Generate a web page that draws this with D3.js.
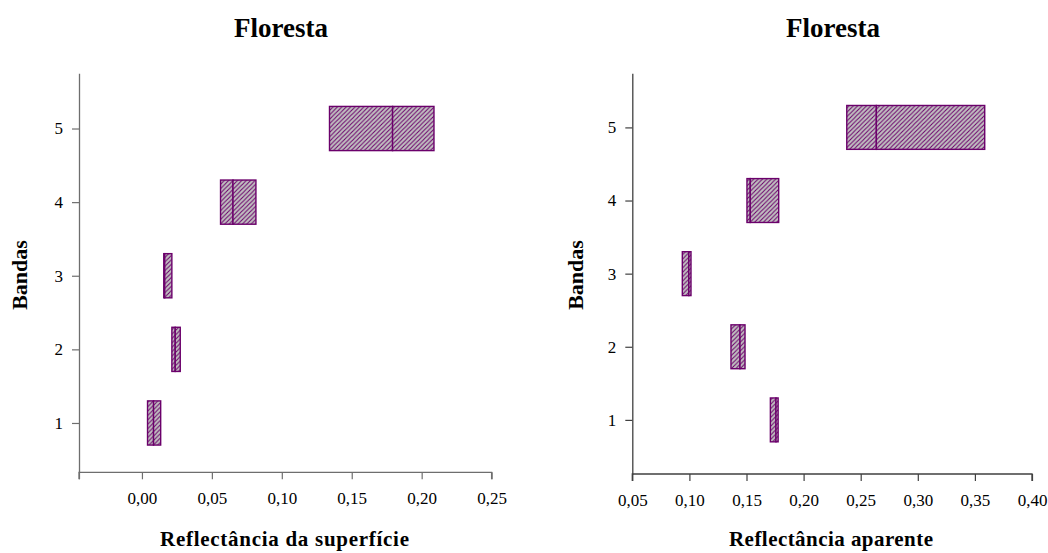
<!DOCTYPE html>
<html><head><meta charset="utf-8">
<script src="https://cdn.jsdelivr.net/npm/d3@7/dist/d3.min.js"></script>
<style>
body{margin:0;background:#fff;}
svg{display:block;font-family:"Liberation Serif","Times New Roman",serif;}
</style></head>
<body><svg id="c" width="1048" height="553"></svg>
<script>
// ---- data ----
const bands = [1, 2, 3, 4, 5];
const xTicksLeft = [0, 0.05, 0.10, 0.15, 0.20, 0.25];
const xTicksRight = [0.05, 0.10, 0.15, 0.20, 0.25, 0.30, 0.35, 0.40];
// Reflectância da superfície: min, mediana, max por banda
const supMin = [0.0040, 0.0214, 0.0156, 0.0562, 0.1341];
const supMed = [0.0083, 0.0238, 0.0163, 0.0651, 0.1792];
const supMax = [0.0134, 0.0274, 0.0214, 0.0815, 0.2088];
// Reflectância aparente
const apaMin = [0.1709, 0.1364, 0.0938, 0.1504, 0.2378];
const apaMed = [0.1758, 0.1443, 0.0995, 0.1533, 0.2637];
const apaMax = [0.1777, 0.1487, 0.1014, 0.1782, 0.3586];

const svg = d3.select("#c");
const purple = "#6b006b";
const serif = "Liberation Serif";
const defs = svg.append("defs");
const P = 4.4;
const pat = defs.append("pattern").attr("id","hatch").attr("patternUnits","userSpaceOnUse")
  .attr("width",P).attr("height",P);
pat.append("rect").attr("width",P).attr("height",P).attr("fill","#c0c0c0");
pat.append("path").attr("d",`M-1,1 L1,-1 M0,${P} L${P},0 M${P-1},${P+1} L${P+1},${P-1}`)
  .attr("stroke",purple).attr("stroke-width",1.05);

const fmt = d => d3.format(".2f")(d).replace(".", ",");

function panel(cfg){
  const x = d3.scaleLinear().domain(cfg.xDomain).range(cfg.xRange);
  const y = d3.scaleLinear().domain(cfg.yDomain).range(cfg.yRange);
  const g = svg.append("g").attr("font-family", serif);
  const axisColor = cfg.axisColor;

  // boxes
  const data = bands.map((b,i)=>({b, lo:cfg.mins[i], md:cfg.meds[i], hi:cfg.maxs[i]}));
  const bx = g.append("g");
  data.forEach(d=>{
    const y0 = y(d.b + 0.3), y1 = y(d.b - 0.3);
    [[d.lo,d.md],[d.md,d.hi]].forEach(([a,c])=>{
      bx.append("rect").attr("x",x(a)).attr("y",y0)
        .attr("width",Math.max(0,x(c)-x(a))).attr("height",y1-y0)
        .attr("fill","url(#hatch)").attr("stroke",purple).attr("stroke-width",1.4);
    });
  });

  // x axis
  const xa = g.append("g").attr("transform",`translate(0,${cfg.yRange[0]})`)
    .call(d3.axisBottom(x).tickValues(cfg.xTicks).tickFormat(fmt).tickSizeOuter(7).tickSizeInner(7).tickPadding(13));
  xa.attr("font-family", serif).attr("font-size", 17);
  xa.select(".domain").attr("stroke",axisColor).attr("stroke-width",1.3).attr("d",`M${cfg.xRange[0]},7V0H${cfg.xRange[1]}V7`);
  xa.selectAll(".tick line").attr("stroke",axisColor).attr("stroke-width",1.2);
  xa.selectAll("text").attr("font-size",17).attr("fill","#000").attr("font-family",serif);

  // y axis
  const ya = g.append("g").attr("transform",`translate(${cfg.xRange[0]},0)`)
    .call(d3.axisLeft(y).tickValues(bands).tickFormat(d3.format("d")).tickSizeOuter(0).tickSizeInner(7).tickPadding(9));
  ya.attr("font-family", serif).attr("font-size", 17);
  ya.select(".domain").attr("stroke",axisColor).attr("stroke-width",1.3);
  ya.selectAll(".tick line").attr("stroke",axisColor).attr("stroke-width",1.2);
  ya.selectAll("text").attr("font-size",17).attr("fill","#000").attr("font-family",serif);

  // titles
  g.append("text").attr("x",cfg.titleX).attr("y",37).attr("text-anchor","middle")
    .attr("font-size",27).attr("font-weight","bold").text("Floresta");
  g.append("text").attr("x",cfg.xLabelX).attr("y",546).attr("text-anchor","middle")
    .attr("font-size",21).attr("font-weight","bold")
    .attr("textLength",cfg.xLabelLen).attr("lengthAdjust","spacing").text(cfg.xLabel);
  g.append("text").attr("transform",`translate(${cfg.yLabelX},275) rotate(-90)`)
    .attr("text-anchor","middle").attr("font-size",22).attr("font-weight","bold").text("Bandas");
}

panel({xDomain:[-0.045,0.25], xRange:[79,491.6], yDomain:[0.33,5.75], yRange:[472.3,73.3],
  xTicks:[-0.045].concat(xTicksLeft), mins:supMin, meds:supMed, maxs:supMax,
  axisColor:"#6e6e6e", titleX:281, xLabelX:284.5, xLabelLen:249, xLabel:"Reflectância da superfície", yLabelX:27});
panel({xDomain:[0.05,0.40], xRange:[632.3,1032], yDomain:[0.26,5.74], yRange:[474,73.3],
  xTicks:xTicksRight, mins:apaMin, meds:apaMed, maxs:apaMax,
  axisColor:"#404040", titleX:833, xLabelX:831, xLabelLen:204, xLabel:"Reflectância aparente", yLabelX:583});
// hide label of the unlabeled first tick on the left axis
svg.selectAll("g.tick text").filter(d=>d<0).text("");
</script></body></html>
